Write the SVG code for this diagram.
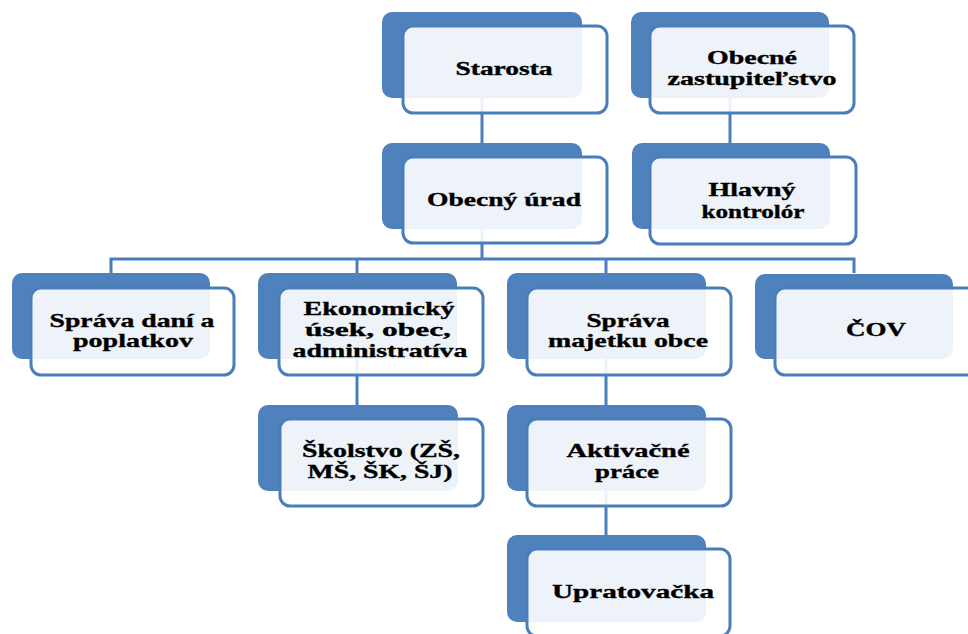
<svg xmlns="http://www.w3.org/2000/svg" width="968" height="634" viewBox="0 0 968 634">
<style>
.back{fill:#4F81BD;}
.front{fill:#FFFFFF;fill-opacity:0.9;stroke:#4A7EBB;stroke-width:3;}
.conn{stroke:#4A7EBB;stroke-width:3;fill:none;}
text{font-family:'Liberation Serif','Times New Roman','DejaVu Serif',serif;font-weight:700;font-size:19px;fill:#000;stroke:#000;stroke-width:0.35;text-anchor:middle;}
</style>
<rect width="968" height="634" fill="#FFFFFF"/>
<g id="connectors">
<path class="conn" d="M482,98 V143"/>
<path class="conn" d="M482,228 V259"/>
<path class="conn" d="M730,97 V143"/>
<path class="conn" d="M111,273 V259 H854 V273"/>
<path class="conn" d="M357,259 V273"/>
<path class="conn" d="M606,259 V273"/>
<path class="conn" d="M357,358 V405"/>
<path class="conn" d="M606,358 V405"/>
<path class="conn" d="M606,490 V535"/>
</g>
<g id="starosta">
<rect class="back" x="382" y="12" width="200" height="86" rx="10"/>
<rect class="front" x="403" y="26" width="204" height="87" rx="10"/>
<text x="504" y="75" textLength="97" lengthAdjust="spacingAndGlyphs">Starosta</text>
</g>
<g id="zastupitelstvo">
<rect class="back" x="631" y="12" width="198" height="86" rx="10"/>
<rect class="front" x="650" y="26" width="204" height="87" rx="10"/>
<text x="752" y="64" textLength="90" lengthAdjust="spacingAndGlyphs">Obecné</text>
<text x="752" y="85" textLength="169" lengthAdjust="spacingAndGlyphs">zastupiteľstvo</text>
</g>
<g id="obecny-urad">
<rect class="back" x="382" y="143" width="200" height="86" rx="10"/>
<rect class="front" x="403" y="157" width="204" height="86" rx="10"/>
<text x="504" y="206" textLength="154" lengthAdjust="spacingAndGlyphs">Obecný úrad</text>
</g>
<g id="hlavny-kontrolor">
<rect class="back" x="632" y="143" width="198" height="86" rx="10"/>
<rect class="front" x="650" y="157" width="206" height="87" rx="10"/>
<text x="752" y="196" textLength="87" lengthAdjust="spacingAndGlyphs">Hlavný</text>
<text x="753" y="218" textLength="103" lengthAdjust="spacingAndGlyphs">kontrolór</text>
</g>
<g id="sprava-dani">
<rect class="back" x="12" y="273" width="198" height="86" rx="10"/>
<rect class="front" x="31" y="288" width="203" height="87" rx="10"/>
<text x="132" y="327" textLength="165" lengthAdjust="spacingAndGlyphs">Správa daní a</text>
<text x="133" y="347" textLength="120" lengthAdjust="spacingAndGlyphs">poplatkov</text>
</g>
<g id="ekonomicky-usek">
<rect class="back" x="258" y="273" width="199" height="86" rx="10"/>
<rect class="front" x="279" y="288" width="204" height="87" rx="10"/>
<text x="379" y="315" textLength="151" lengthAdjust="spacingAndGlyphs">Ekonomický</text>
<text x="378" y="336" textLength="146" lengthAdjust="spacingAndGlyphs">úsek, obec,</text>
<text x="380" y="357" textLength="175" lengthAdjust="spacingAndGlyphs">administratíva</text>
</g>
<g id="sprava-majetku">
<rect class="back" x="507" y="273" width="199" height="86" rx="10"/>
<rect class="front" x="527" y="288" width="204" height="87" rx="10"/>
<text x="628" y="327" textLength="83" lengthAdjust="spacingAndGlyphs">Správa</text>
<text x="628" y="347" textLength="160" lengthAdjust="spacingAndGlyphs">majetku obce</text>
</g>
<g id="cov">
<rect class="back" x="755" y="274" width="198" height="85" rx="10"/>
<rect class="front" x="775" y="288" width="204" height="87" rx="10"/>
<text x="876" y="336" textLength="60" lengthAdjust="spacingAndGlyphs">ČOV</text>
</g>
<g id="skolstvo">
<rect class="back" x="258" y="405" width="200" height="86" rx="10"/>
<rect class="front" x="280" y="419" width="203" height="87" rx="10"/>
<text x="381" y="457" textLength="158" lengthAdjust="spacingAndGlyphs">Školstvo (ZŠ,</text>
<text x="380" y="478" textLength="145" lengthAdjust="spacingAndGlyphs">MŠ, ŠK, ŠJ)</text>
</g>
<g id="aktivacne-prace">
<rect class="back" x="507" y="405" width="199" height="86" rx="10"/>
<rect class="front" x="527" y="419" width="204" height="87" rx="10"/>
<text x="628" y="457" textLength="123" lengthAdjust="spacingAndGlyphs">Aktivačné</text>
<text x="627" y="478" textLength="64" lengthAdjust="spacingAndGlyphs">práce</text>
</g>
<g id="upratovacka">
<rect class="back" x="507" y="535" width="199" height="87" rx="10"/>
<rect class="front" x="527" y="549" width="203" height="87" rx="10"/>
<text x="633" y="598" textLength="162" lengthAdjust="spacingAndGlyphs">Upratovačka</text>
</g>
</svg>
